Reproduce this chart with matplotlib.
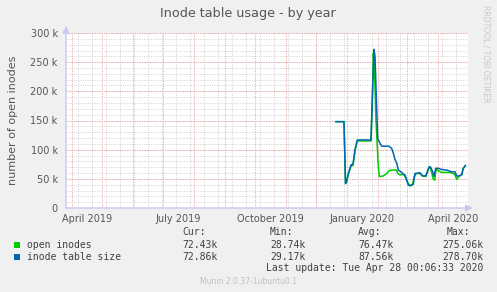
import matplotlib
matplotlib.use("Agg")
import matplotlib.pyplot as plt
import pandas as pd
import numpy as np

# ---- data (days relative to 2020-01-01, values in thousands)
BLUE_DAYS = [-11, -3, -1.5, -0.5, 1.3, 4, 6, 8, 10.3, 24, 25.5, 27, 28, 29.5, 30.7,
             33, 34.7, 42, 44.7, 46.3, 48, 49.7, 51.3, 54, 55.7, 58, 59.7, 61.3, 64,
             66.3, 68, 73, 75.7, 78.7, 80.3, 82.3, 84, 85.7, 87, 88.7, 91.3, 94.7,
             99.7, 104.7, 108, 109.7, 112.3, 114.7, 116.3, 118.3]
BLUE_VALS = [148, 148, 42, 45, 59, 74, 75, 100, 116.6, 116.6, 200, 272, 260, 180, 119,
             111, 106, 106, 102, 94, 83, 77, 65, 62, 59, 56.6, 48, 39, 39,
             41, 59, 60.5, 55, 55, 62, 71, 69, 62, 54, 68, 68, 66,
             65, 62, 62, 55, 55, 57, 68, 73]

GREEN_DAYS = [-11, -3, -1.5, -0.5, 1.3, 4, 6, 8, 10.3, 24, 25.5, 26.3, 27.5, 29, 31.3,
              32.3, 33, 36.3, 39.7, 42, 46.3, 49.7, 50.7, 53, 56.3, 58, 60.3, 63, 65.3,
              67.3, 68.7, 73, 75.3, 79, 81, 83, 85, 86.3, 87.7, 89, 91.3, 94.7, 99.7,
              104.7, 108, 109.7, 112.3, 114.7, 116.3, 118.3]
GREEN_VALS = [148, 148, 42, 44, 57, 72, 73, 98, 115, 115, 190, 265, 240, 150, 71,
              54, 54, 55, 59, 64, 65, 65, 59, 56.6, 58, 54, 45, 37.7, 39,
              54, 59, 59, 55, 54, 66, 71, 59, 49, 48, 66, 64, 61, 61,
              60.5, 57, 49, 55, 57, 68, 72]

Y_TICKS = [0, 50, 100, 150, 200, 250, 300]
Y_LABELS = ["0", "50 k", "100 k", "150 k", "200 k", "250 k", "300 k"]
X_LABEL_MONTHS = ["2019-04-01", "2019-07-01", "2019-10-01", "2020-01-01", "2020-04-01"]
X_LABELS = ["April 2019", "July 2019", "October 2019", "January 2020", "April 2020"]

LEGEND_NAMES = ["open inodes", "inode table size"]
LEGEND_COLORS = ["#00CC00", "#0066B3"]
CUR = ["72.43k", "72.86k"]
MIN = ["28.74k", "29.17k"]
AVG = ["76.47k", "87.56k"]
MAX = ["275.06k", "278.70k"]

BG = "#F0F0F0"
TXT = "#555555"
W, H = 497, 292

base = pd.Timestamp("2020-01-01")
def to_dates(days):
    return base + pd.to_timedelta(np.array(days), unit="D")

fig = plt.figure(figsize=(W / 100, H / 100), dpi=100, facecolor=BG)
left, right, top, bottom = 66, 468, 33, 208
ax = fig.add_axes([left / W, 1 - bottom / H, (right - left) / W, (bottom - top) / H])
ax.set_facecolor("white")

x0 = base - pd.Timedelta(days=281)
x1 = base + pd.Timedelta(days=121)
ax.set_xlim(x0, x1)
ax.set_ylim(0, 300)

# grid
dot = (0, (1.2, 1.4))
for d in pd.date_range("2019-04-07", x1, freq="14D"):
    ax.axvline(d, color="#d2d2d2", lw=0.65, ls=dot, zorder=1)
for v in range(10, 301, 10):
    ax.axhline(v, color="#d2d2d2", lw=0.65, ls=dot, zorder=1)
for d in pd.date_range(x0, x1, freq="MS"):
    ax.axvline(d, color="#f2a6a6", lw=0.7, ls=dot, zorder=2)
for v in Y_TICKS[1:]:
    ax.axhline(v, color="#f2a6a6", lw=0.7, ls=dot, zorder=2)

ax.plot(to_dates(GREEN_DAYS), GREEN_VALS, color=LEGEND_COLORS[0], lw=1.1, zorder=3)
ax.plot(to_dates(BLUE_DAYS), BLUE_VALS, color=LEGEND_COLORS[1], lw=1.1, zorder=4)

for s in ax.spines.values():
    s.set_visible(False)
axis_col = "#c8c8f0"
ax.annotate("", xy=(0, 1.04), xytext=(0, 0), xycoords="axes fraction",
            arrowprops=dict(arrowstyle="-|>,head_length=0.4,head_width=0.2", color=axis_col, lw=1, shrinkA=0, shrinkB=0))
ax.annotate("", xy=(1.012, 0), xytext=(0, 0), xycoords="axes fraction",
            arrowprops=dict(arrowstyle="-|>,head_length=0.4,head_width=0.2", color=axis_col, lw=1, shrinkA=0, shrinkB=0))

ax.set_yticks(Y_TICKS)
ax.set_yticklabels(Y_LABELS)
ax.set_xticks(pd.to_datetime(X_LABEL_MONTHS) + pd.Timedelta(days=15))
ax.set_xticklabels(X_LABELS)
ax.tick_params(axis="both", length=0, colors=TXT, labelsize=7)
ax.tick_params(axis="y", pad=6)
ax.tick_params(axis="x", pad=4)

ax.set_ylabel("number of open inodes", color=TXT, fontsize=8, labelpad=9)

fig.text(248 / W, 1 - 13 / H, "Inode table usage - by year", ha="center", va="center",
         color=TXT, fontsize=9.2)
fig.text(486 / W, 1 - 5 / H, "RRDTOOL / TOBI OETIKER", rotation=270, ha="center", va="top",
         color="#c8c8c8", fontsize=5.5)

# legend block
mono = dict(family="DejaVu Sans Mono", fontsize=7, color="#404040")
for lx, hdr in zip([182, 270, 358, 447], ["Cur:", "Min:", "Avg:", "Max:"]):
    fig.text(lx / W, 1 - 232 / H, hdr, ha="left", va="center", **mono)
for i, (name, col) in enumerate(zip(LEGEND_NAMES, LEGEND_COLORS)):
    yy = 1 - (245 + 12 * i) / H
    fig.patches.append(plt.Rectangle((14 / W, yy - 3 / H), 6 / W, 6 / H, transform=fig.transFigure,
                                     facecolor=col, edgecolor="none"))
    fig.text(27 / W, yy, name, ha="left", va="center", **mono)
    fig.text(182 / W, yy, CUR[i], ha="left", va="center", **mono)
    fig.text(270 / W, yy, MIN[i], ha="left", va="center", **mono)
    fig.text(358 / W, yy, AVG[i], ha="left", va="center", **mono)
    fig.text(483 / W, yy, MAX[i], ha="right", va="center", **mono)
fig.text(483 / W, 1 - 268 / H, "Last update: Tue Apr 28 00:06:33 2020", ha="right", va="center", **mono)
fig.text(248 / W, 1 - 281 / H, "Munin 2.0.37-1ubuntu0.1", ha="center", va="center",
         color="#c0c0c0", fontsize=5.5)

fig.savefig("out.png", dpi=100, facecolor=BG)
